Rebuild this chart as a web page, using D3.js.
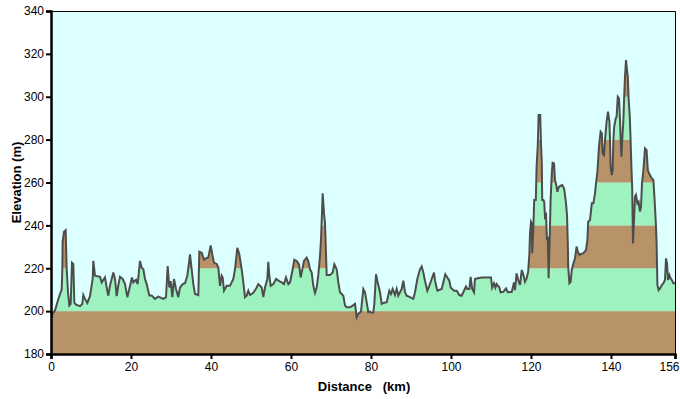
<!DOCTYPE html>
<html>
<head>
<meta charset="utf-8">
<script src="https://cdn.jsdelivr.net/npm/d3@7"></script>
<style>
body { margin: 0; background: #ffffff; }
svg { display: block; }
text { font-family: "Liberation Sans", Arial, sans-serif; }
</style>
</head>
<body>
<svg id="chart" width="680" height="399"></svg>
<script>
// Distance (km) of each profile point
const distanceKm = [
  0, 0.17, 0.42, 1.0, 1.58, 2.25, 2.67, 2.83, 2.92, 3.25, 3.67, 3.92, 4.25, 4.58, 4.92, 5.25, 5.58, 5.83, 6.25, 7.25,
  7.83, 8.08, 8.5, 9.08, 9.75, 10.42, 10.58, 11.0, 12.25, 12.67, 13.5, 13.92, 14.33, 14.75, 15.58, 16.0, 16.42, 16.83, 17.25, 17.92,
  18.5, 19.08, 19.58, 20.25, 20.58, 21.25, 21.67, 22.25, 22.67, 23.08, 23.5, 23.92, 24.58, 25.17, 26.0, 26.83, 28.08, 28.75, 29.17, 29.58,
  29.92, 30.33, 30.75, 31.25, 31.83, 32.25, 32.92, 33.5, 34.08, 34.75, 35.17, 35.58, 36.0, 36.83, 37.08, 37.67, 38.25, 38.75, 39.33, 39.92,
  40.33, 40.75, 41.42, 41.83, 42.25, 42.67, 42.92, 43.25, 43.92, 44.75, 45.58, 46.0, 46.58, 47.08, 47.67, 48.08, 48.5, 48.92, 49.33, 49.75,
  50.58, 51.42, 51.83, 52.67, 53.08, 53.5, 54.08, 54.33, 54.58, 54.92, 55.58, 56.25, 57.08, 57.67, 58.25, 58.75, 59.33, 59.75, 60.42, 60.83,
  61.42, 62.0, 62.42, 62.92, 63.25, 63.92, 64.33, 64.75, 65.17, 65.58, 66.0, 66.42, 66.83, 67.25, 67.5, 67.75, 67.92, 68.25, 68.5, 68.92,
  69.75, 70.42, 70.83, 71.42, 71.83, 72.25, 73.08, 73.5, 73.92, 74.75, 75.42, 76.0, 76.42, 76.83, 77.5, 78.08, 78.5, 78.92, 79.33, 79.75,
  80.17, 80.58, 80.83, 81.25, 81.58, 82.25, 82.67, 83.08, 83.92, 84.58, 85.0, 85.42, 86.0, 86.42, 86.83, 87.25, 87.67, 88.08, 88.5, 88.92,
  89.75, 90.58, 91.0, 91.58, 92.25, 92.67, 93.08, 93.5, 94.08, 94.58, 95.17, 95.75, 96.0, 96.58, 97.67, 98.08, 98.58, 99.08, 99.58, 99.92,
  100.75, 101.42, 102.08, 102.67, 103.25, 103.75, 104.08, 104.6, 104.9, 105.3, 105.75, 106.0, 106.4, 107.7, 108.9, 110.0, 110.3, 110.75, 111.1, 111.4,
  112.1, 112.4, 113.1, 113.75, 114.2, 115.2, 115.75, 116.0, 116.4, 116.8, 117.25, 117.7, 118.1, 118.5, 118.9, 119.3, 119.6, 119.75, 120.0, 120.2,
  120.3, 120.6, 120.8, 121.2, 121.4, 121.7, 121.9, 122.3, 122.5, 122.7, 122.8, 123.1, 123.3, 123.5, 123.75, 124.0, 124.2, 124.4, 124.7, 124.9,
  125.2, 125.4, 125.75, 126.0, 126.3, 126.6, 126.9, 127.3, 127.8, 128.25, 128.5, 128.75, 129.0, 129.2, 129.3, 129.6, 129.9, 130.2, 130.6, 131.0,
  131.4, 131.7, 132.1, 132.4, 133.1, 133.75, 134.1, 134.3, 134.75, 135.2, 135.6, 136.0, 136.25, 136.6, 137.0, 137.4, 137.7, 137.9, 138.25, 138.5,
  138.9, 139.25, 139.6, 139.75, 139.9, 140.2, 140.4, 140.6, 140.8, 141.2, 141.4, 141.7, 142.0, 142.25, 142.4, 142.6, 142.8, 143.1, 143.3, 143.5,
  143.75, 144.0, 144.2, 144.4, 144.7, 144.9, 145.1, 145.3, 145.5, 145.75, 146.0, 146.25, 146.6, 146.9, 147.25, 147.5, 147.75, 148.1, 148.5, 148.9,
  149.2, 149.5, 149.75, 150.2, 150.6, 150.9, 151.25, 151.4, 151.6, 151.9, 152.25, 152.7, 153.1, 153.5, 153.75, 154.0, 154.25, 154.6, 154.9, 155.2,
  155.6, 156.0
];
// Elevation (m) of each profile point
const elevationM = [
  197, 197.2, 199, 200.3, 204, 208, 210, 219.5, 232.6, 237, 237.7, 219.5, 208.8, 202.6, 203.4, 222.6, 222, 204, 203, 202.3,
  203.4, 207.5, 205.7, 203.8, 207, 215, 223.5, 216.5, 216, 213.4, 215.7, 211, 207.2, 211.9, 218, 215, 207, 212, 216, 215,
  212.6, 206.5, 210.3, 215.7, 213.4, 214.6, 212.6, 223.4, 220.3, 219.5, 215, 212.6, 207.3, 207.3, 205.7, 206.8, 205.7, 206.5, 221, 211,
  214, 206.5, 215, 210.3, 206.5, 211, 212.6, 213, 216.5, 226.5, 219.5, 212.6, 208, 207.5, 227.7, 227.2, 224, 224.6, 225, 230.6,
  226.5, 222.6, 222, 220.3, 211.8, 216.5, 215.7, 209.5, 211.8, 211.8, 215, 219.5, 229.5, 226.5, 219.5, 213.4, 206.5, 207.2, 209.5, 207.5,
  208.5, 211, 212.6, 211, 206.5, 211, 215, 223, 216.5, 211.8, 212.6, 215, 214, 213.4, 212.6, 215.7, 212.6, 213.4, 219.5, 224,
  223.4, 221.8, 215.7, 220.3, 223.4, 225, 223.4, 219.5, 218, 211.8, 208.5, 211, 217, 225.7, 233.4, 245.7, 255, 245.7, 241, 216.8,
  216.8, 218, 221.8, 219.5, 213.4, 208.8, 207.2, 202.6, 201.8, 201.8, 202.6, 203.4, 197.2, 198.8, 199.8, 210.3, 208.8, 204.2, 199.5, 199.8,
  199.2, 199.5, 203.4, 217.2, 214.2, 208.8, 203.4, 203.8, 204.2, 209.5, 208, 210.3, 207.5, 210.3, 207.2, 208.8, 210.3, 214.2, 208.8, 207.2,
  206.5, 205.7, 208.8, 215, 219.5, 220.8, 218, 214.2, 209.5, 211.8, 215, 218, 214.2, 209.5, 210.3, 213.4, 217.2, 215.7, 214.2, 211,
  209.5, 209.5, 207.5, 207.2, 209.5, 211.5, 210.3, 210.3, 216, 210.3, 208.8, 215, 215.2, 215.7, 215.7, 215.7, 211, 213, 211, 212.6,
  211, 208.8, 209, 210.6, 208.8, 209, 213.4, 209.8, 217.6, 214.5, 212.2, 219.2, 216.8, 213.7, 215.3, 218.4, 227, 236.3, 241.7, 240.9,
  227, 239.4, 251.8, 251.8, 267.4, 277.5, 291.5, 291.5, 278.3, 269, 251.8, 251.8, 251, 244, 244.8, 233.2, 234.7, 215.3, 236.3, 251.8,
  264.3, 269.2, 268.9, 261.2, 258.8, 255.7, 257.7, 258.4, 258.8, 257.3, 254.2, 250.3, 244.8, 231.6, 220.7, 213, 213.7, 219.2, 222.3, 224.6,
  230.1, 227.7, 226.2, 226.6, 227, 228.5, 233.2, 241.7, 242.5, 250.3, 250.3, 254.9, 259.6, 265, 276.7, 283.7, 282.9, 273.6, 272.8, 279.8,
  288.4, 293, 288.4, 279.8, 267.4, 263.5, 265.8, 279.8, 286, 290, 290.7, 300, 299.3, 289.2, 280.6, 272, 279.8, 289.2, 300, 309.4,
  317.1, 312.5, 309.4, 299.3, 290.7, 279.8, 267.4, 257.3, 231.6, 242.5, 253.4, 254.2, 250.3, 251, 246.4, 248.7, 259.6, 265.8, 275.9, 275.1,
  265.8, 264.3, 263.5, 261.9, 261.2, 251.8, 239.4, 231.6, 212.2, 209.8, 210.6, 212.2, 213, 214.5, 224.6, 222.3, 214.5, 216.8, 215.3, 214.5,
  213, 213
];
const xTickValues = [0, 20, 40, 60, 80, 100, 120, 140, 156];
const yTickValues = [180, 200, 220, 240, 260, 280, 300, 320, 340];
const bandEdges = [180, 200, 220, 240, 260, 280, 300, 320, 340];
const bandColors = ["#b89268", "#9ef2c0"];

const W = 680, H = 399;
const margin = { left: 51, top: 11, right: 5, bottom: 45 };
const svg = d3.select("#chart");
const x = d3.scaleLinear().domain([0, 156]).range([margin.left, W - margin.right]);
const y = d3.scaleLinear().domain([180, 340]).range([H - margin.bottom, margin.top]);

const pts = distanceKm.map((d, i) => [d, elevationM[i]]);

// background
svg.append("rect")
  .attr("x", x(0)).attr("y", y(340))
  .attr("width", x(156) - x(0)).attr("height", y(180) - y(340))
  .attr("fill", "#dcffff");

// clip to terrain area
const area = d3.area().x(d => x(d[0])).y0(y(180)).y1(d => y(d[1]));
svg.append("clipPath").attr("id", "terrain")
  .append("path").attr("d", area(pts));

const bands = d3.range(bandEdges.length - 1).map(i => ({ lo: bandEdges[i], hi: bandEdges[i + 1], c: bandColors[i % 2] }));
svg.append("g").attr("clip-path", "url(#terrain)")
  .selectAll("rect").data(bands).join("rect")
  .attr("x", x(0)).attr("width", x(156) - x(0))
  .attr("y", d => y(d.hi)).attr("height", d => y(d.lo) - y(d.hi))
  .attr("fill", d => d.c);

// profile line
svg.append("path")
  .attr("d", d3.line().x(d => x(d[0])).y(d => y(d[1]))(pts))
  .attr("fill", "none").attr("stroke", "#4d4d4d").attr("stroke-width", 2)
  .attr("stroke-linejoin", "miter");

// frame top/right
svg.append("path")
  .attr("d", `M${x(0)},${y(340) + 0.5}H${x(156) + 0.5}V${y(180)}`)
  .attr("fill", "none").attr("stroke", "#000").attr("stroke-width", 1);

// axes
const xAxis = d3.axisBottom(x).tickValues(xTickValues).tickFormat(d3.format("d")).tickSizeOuter(0).tickSize(5).tickPadding(3);
const yAxis = d3.axisLeft(y).tickValues(yTickValues).tickFormat(d3.format("d")).tickSizeOuter(0).tickSize(5).tickPadding(2);

const gx = svg.append("g").attr("transform", `translate(0,${y(180)})`).call(xAxis);
const gy = svg.append("g").attr("transform", `translate(${x(0)},0)`).call(yAxis);
[gx, gy].forEach(g => {
  g.selectAll("text").attr("font-size", 12).attr("fill", "#000").style("font-family", "'Liberation Sans', Arial, sans-serif");
  g.selectAll("line").attr("stroke", "#000").attr("stroke-width", 2);
  g.select(".domain").attr("stroke", "#000").attr("stroke-width", 2.5);
});
// keep the last x label inside the picture
gx.selectAll(".tick").filter(d => d === 156).select("text")
  .attr("text-anchor", "end").attr("x", 4);

// axis titles
svg.append("text")
  .attr("x", 364).attr("y", 391)
  .attr("text-anchor", "middle")
  .attr("font-size", 13).attr("font-weight", "bold")
  .attr("xml:space", "preserve")
  .style("white-space", "pre")
  .text("Distance   (km)");

svg.append("text")
  .attr("transform", `translate(21,${(y(180) + y(340)) / 2}) rotate(-90)`)
  .attr("text-anchor", "middle")
  .attr("font-size", 13).attr("font-weight", "bold")
  .text("Elevation (m)");
</script>
</body>
</html>
